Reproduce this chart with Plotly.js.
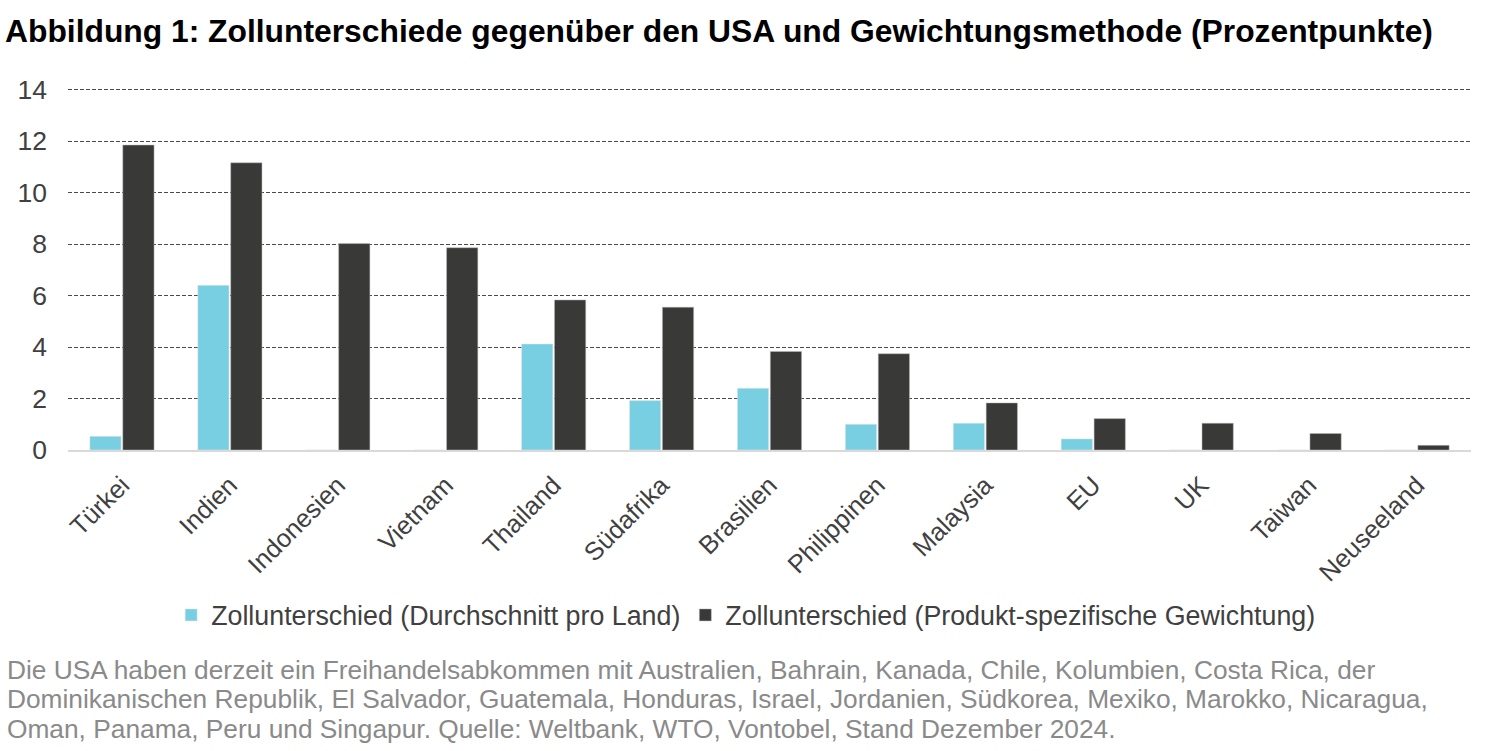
<!DOCTYPE html>
<html>
<head>
<meta charset="utf-8">
<script src="https://cdn.plot.ly/plotly-3.0.1.min.js"></script>
<style>
  html, body { margin: 0; padding: 0; background: #fff; }
  #chart { width: 1500px; height: 751px; }
</style>
</head>
<body>
<div id="chart"></div>
<script>
// Werte (Prozentpunkte)
const countries = ['Türkei', 'Indien', 'Indonesien', 'Vietnam', 'Thailand', 'Südafrika', 'Brasilien',
  'Philippinen', 'Malaysia', 'EU', 'UK', 'Taiwan', 'Neuseeland'];
const avgPerCountry = [0.53, 6.4, 0, 0, 4.12, 1.92, 2.4, 1.0, 1.04, 0.43, 0, 0, 0];
const productWeighted = [11.85, 11.16, 8.02, 7.86, 5.83, 5.55, 3.83, 3.74, 1.83, 1.22, 1.04, 0.64, 0.18];
const yTicks = [0, 2, 4, 6, 8, 10, 12, 14];

const seriesNames = ['Zollunterschied (Durchschnitt pro Land)', 'Zollunterschied (Produkt-spezifische Gewichtung)'];
const titleText = 'Abbildung 1: Zollunterschiede gegenüber den USA und Gewichtungsmethode (Prozentpunkte)';
const noteLines = [
  'Die USA haben derzeit ein Freihandelsabkommen mit Australien, Bahrain, Kanada, Chile, Kolumbien, Costa Rica, der',
  'Dominikanischen Republik, El Salvador, Guatemala, Honduras, Israel, Jordanien, Südkorea, Mexiko, Marokko, Nicaragua,',
  'Oman, Panama, Peru und Singapur. Quelle: Weltbank, WTO, Vontobel, Stand Dezember 2024.'
];

const font = 'Arial, "Liberation Sans", sans-serif';

const traces = [
  {
    name: seriesNames[0],
    type: 'bar',
    x: countries,
    y: avgPerCountry,
    marker: { color: '#79cfe2', line: { color: '#e6e6e6', width: 0.5 } },
    hoverinfo: 'x+y'
  },
  {
    name: seriesNames[1],
    type: 'bar',
    x: countries,
    y: productWeighted,
    marker: { color: '#393a37', line: { color: '#bdbdbd', width: 0.5 } },
    hoverinfo: 'x+y'
  }
];

// Plotbereich: y=0 bei 450 px, Oberkante bei 82 px
const plotTop = 82, plotBottom = 450, plotH = plotBottom - plotTop;

// Fußnote Zeile für Zeile
const notes = noteLines.map((t, i) => ({
  text: t,
  xref: 'paper', yref: 'paper',
  x: -63 / 1403, xanchor: 'left',
  y: (plotBottom - 670 - i * 29.3) / plotH, yanchor: 'middle',
  showarrow: false,
  align: 'left',
  font: { family: font, size: 26.3, color: '#8a8a8a' }
}));

const layout = {
  width: 1500,
  height: 751,
  margin: { l: 68, r: 29, t: plotTop, b: 751 - plotBottom },
  paper_bgcolor: '#fff',
  plot_bgcolor: '#fff',
  font: { family: font, color: '#404040' },
  title: {
    text: '<b>' + titleText + '</b>',
    xref: 'container', yref: 'container',
    x: 5 / 1500, xanchor: 'left',
    y: 1 - 31 / 751, yanchor: 'middle',
    font: { family: font, size: 31.8, color: '#000' }
  },
  barmode: 'group',
  bargap: 0.39,
  bargroupgap: 0.05,
  showlegend: true,
  legend: {
    orientation: 'h',
    x: 0.483, xanchor: 'center',
    y: (plotBottom - 615) / plotH, yanchor: 'middle',
    font: { family: font, size: 26.8, color: '#404040' },
    itemclick: false
  },
  xaxis: {
    type: 'category',
    tickangle: -45,
    tickfont: { family: font, size: 25.5, color: '#404040' },
    ticks: 'outside',
    ticklen: 8,
    tickcolor: 'rgba(0,0,0,0)',
    showline: true,
    linecolor: '#d9d9d9',
    linewidth: 2,
    showgrid: false,
    fixedrange: true
  },
  yaxis: {
    range: [0, 14.3],
    tickvals: yTicks,
    tickfont: { family: font, size: 26.5, color: '#404040' },
    ticklabelstandoff: 20,
    showgrid: true,
    gridcolor: '#4a4a4a',
    gridwidth: 1,
    griddash: '4px,2px',
    zeroline: false,
    showline: false,
    fixedrange: true
  },
  annotations: notes
};

Plotly.newPlot('chart', traces, layout, { displayModeBar: false, responsive: false });
</script>
</body>
</html>
